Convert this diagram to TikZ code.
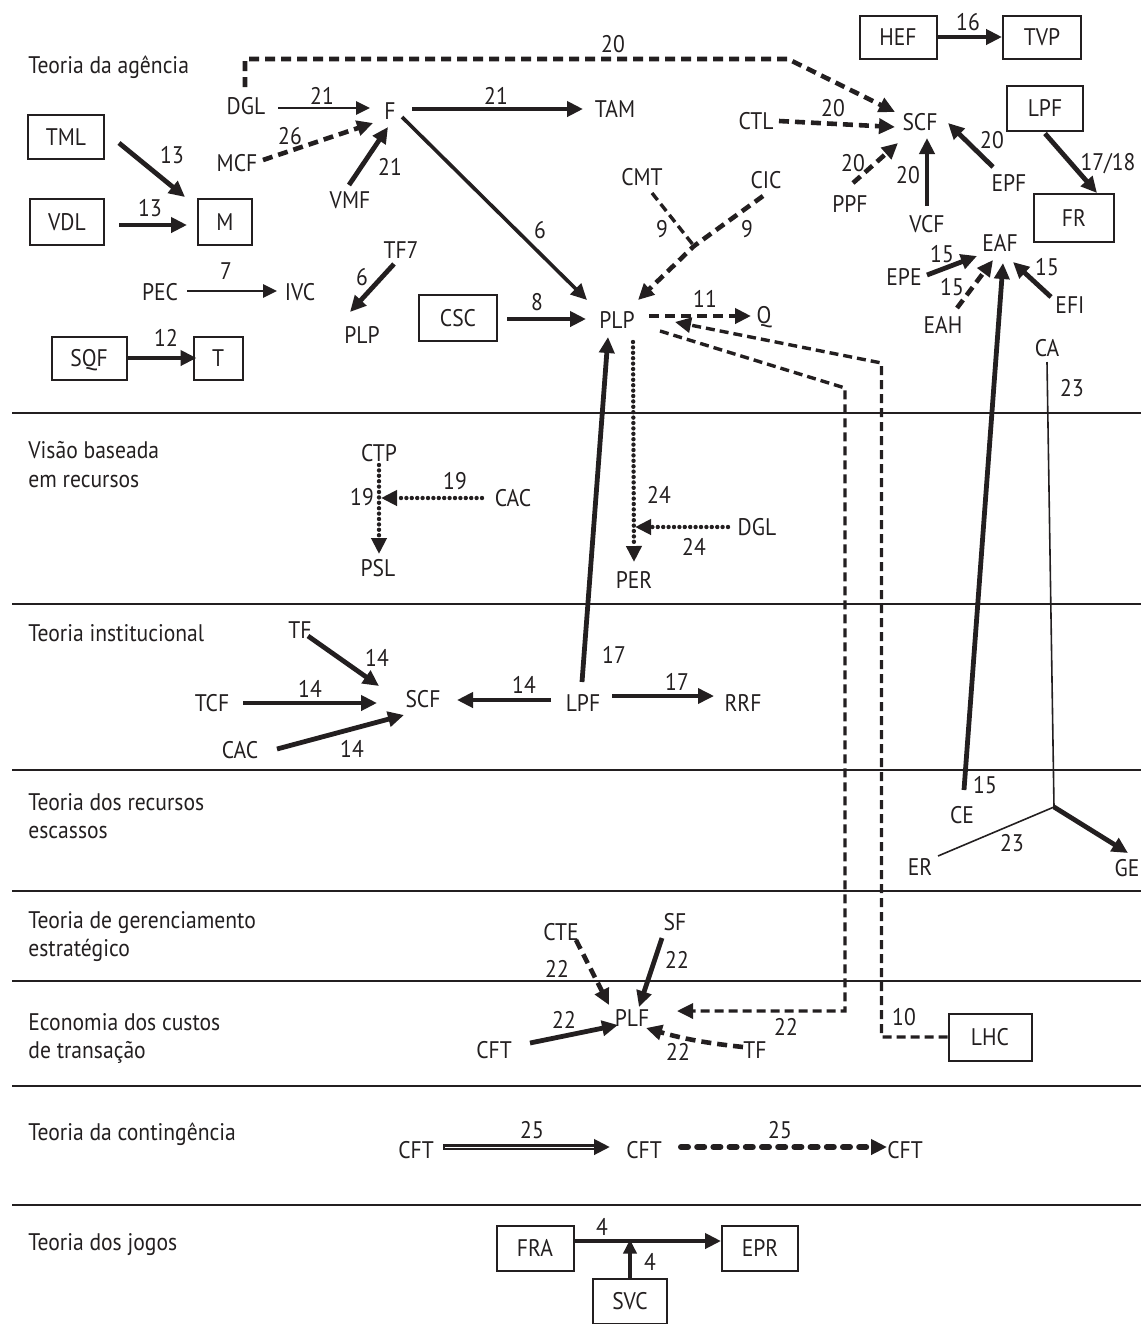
\documentclass[tikz,border=0pt]{standalone}
\usepackage{fontspec}
\setmainfont{PT Sans}[FakeStretch=0.9]
\usetikzlibrary{arrows.meta,calc}
\definecolor{ink}{RGB}{35,31,32}
\begin{document}
\begin{tikzpicture}[x=0.5pt,y=-0.5pt,color=ink,
  lbl/.style={font=\fontsize{12}{14}\selectfont,inner sep=0pt,text height=8.4pt,text depth=0pt},
  num/.style={lbl},
  sec/.style={font=\fontsize{12}{14}\selectfont,inner sep=0pt,anchor=base west},
  box/.style 2 args={lbl,draw,line width=1pt,minimum width=#1,minimum height=#2},
  ar/.style={-{Triangle[length=8pt,width=7.5pt]}},
  ars/.style={-{Triangle[length=7pt,width=6.5pt]}},
  thk/.style={line width=2.4pt},
  thn/.style={line width=1.3pt},
  med/.style={line width=1.8pt},
  hair/.style={line width=0.8pt},
  dsh/.style={line width=2.3pt,dash pattern=on 5pt off 3pt},
  dshl/.style={line width=1.7pt,dash pattern=on 4.5pt off 2.5pt},
  dotl/.style={line width=2.2pt,line cap=round,dash pattern=on 0pt off 2.7pt},
  sepline/.style={line width=1pt}
]
\useasboundingbox (0,0) rectangle (1141,1324);

% separator lines
\foreach \yy in {413,604,770,891,981,1086,1205} {\draw[sepline] (12,\yy) -- (1141,\yy);}

% section labels
\node[sec] (s1) at (28,73) {Teoria da agência};
\node[sec] (s2a) at (28,458) {Visão baseada};
\node[sec] (s2b) at (28,487) {em recursos};
\node[sec] (s3) at (28,641) {Teoria institucional};
\node[sec] (s4a) at (28,810) {Teoria dos recursos};
\node[sec] (s4b) at (28,838) {escassos};
\node[sec] (s5a) at (28,928) {Teoria de gerenciamento};
\node[sec] (s5b) at (28,956) {estratégico};
\node[sec] (s6a) at (28,1030) {Economia dos custos};
\node[sec] (s6b) at (28,1058) {de transação};
\node[sec] (s7) at (28,1140) {Teoria da contingência};
\node[sec] (s8) at (28,1250) {Teoria dos jogos};

% ---------- Teoria da agencia ----------
\node[lbl] (DGL1) at (246,106) {DGL};
\node[lbl] (F) at (390,111) {F};
\node[lbl] (MCF) at (237,163) {MCF};
\node[lbl] (VMF) at (350,200) {VMF};
\node[lbl] (TAM) at (615,109) {TAM};
\node[box={38pt}{22pt}] (TML) at (66,137) {TML};
\node[box={37pt}{23pt}] (VDL) at (67,222) {VDL};
\node[box={27pt}{23pt}] (M) at (225,222) {M};
\node[lbl] (PEC) at (160,292) {PEC};
\node[lbl] (IVC) at (300,292) {IVC};
\node[lbl] (TF7) at (401,250) {TF7};
\node[lbl] (PLPs) at (362,335) {PLP};
\node[box={37.5pt}{21.5pt}] (SQF) at (89,358) {SQF};
\node[box={24.5pt}{21.5pt}] (T) at (218,358) {T};
\node[box={39pt}{23pt}] (CSC) at (458,318) {CSC};
\node[lbl] (PLP) at (617,320) {PLP};
\node[lbl] (Q) at (764,315) {Q};
\node[lbl] (CMT) at (642,177) {CMT};
\node[lbl] (CIC) at (766,180) {CIC};
\node[lbl] (CTL) at (756,121) {CTL};
\node[lbl] (SCF1) at (920,122) {SCF};
\node[lbl] (PPF) at (850,204) {PPF};
\node[lbl] (VCF) at (927,224) {VCF};
\node[lbl] (EPF) at (1009,183) {EPF};
\node[box={38.5pt}{21.5pt}] (HEF) at (898,37) {HEF};
\node[box={39pt}{21.5pt}] (TVP) at (1042,37) {TVP};
\node[box={38pt}{22.5pt}] (LPF1) at (1045,108) {LPF};
\node[box={40pt}{24pt}] (FR) at (1074,218) {FR};
\node[lbl] (EAF) at (1000,243) {EAF};
\node[lbl] (EPE) at (904,277) {EPE};
\node[lbl] (EAH) at (943,325) {EAH};
\node[lbl] (EFI) at (1070,305) {EFI};
\node[lbl] (CA) at (1047,348) {CA};

% top dashed 20
\draw[dsh,ar] ($(DGL1)+(-1,-19)$) -- ++(0,-28) -- ($(SCF1)+(-132,-63)$) -- ($(SCF1)+(-25,-10)$);
\node[num] (n20a) at (613,44) {20};
\draw[thn,ars] ($(DGL1)+(32,2)$) -- ($(F)+(-20,-3)$);
\node[num] (n21a) at (322,96) {21};
\draw[dsh,ar] ($(MCF)+(26,-3)$) -- ($(F)+(-17,12)$);
\node[num] (n26) at (290,136) {26};
\draw[thk,ar] ($(VMF)+(-1,-15)$) -- ($(F)+(-2,16)$);
\node[num] (n21b) at (390,167) {21};
\draw[thk,ar] ($(F)+(22,-2)$) -- ($(TAM)+(-32,0)$);
\node[num] (n21c) at (496,96) {21};
\draw[med,ar] ($(F)+(12,6)$) -- ($(PLP)+(-30,-20)$);
\node[num] (n6a) at (540,230) {6};
\draw[thk,ar] ($(TML)+(53,6)$) -- ($(M)+(-40,-25)$);
\node[num] (n13a) at (172,155) {13};
\draw[thk,ar] ($(VDL)+(52,3)$) -- ($(M)+(-38,3)$);
\node[num] (n13b) at (150,208) {13};
\draw[thn,ars] ($(PEC)+(27,-1)$) -- ($(IVC)+(-23,-1)$);
\node[num] (n7) at (226,271) {7};
\draw[thk,ar] ($(TF7)+(-7,14)$) -- ($(PLPs)+(-12,-23)$);
\node[num] (n6b) at (362,277) {6};
\draw[thk,ar] (SQF.east) -- ($(T.west)+(4,0)$);
\node[num] (n12) at (166,338) {12};
\draw[thk,ar] ($(CSC)+(49,1)$) -- ($(PLP)+(-31,-1)$);
\node[num] (n8) at (537,302) {8};
\draw[dsh,ar] ($(PLP)+(32,-4)$) -- ($(Q)+(-13,1)$);
\node[num] (n11) at (705,299) {11};
\coordinate (J9) at (694,246);
\draw[dshl] ($(CMT)+(10,16)$) -- (J9);
\draw[dsh,ar] ($(CIC)+(-3,16)$) -- (J9) -- ($(PLP)+(21,-20)$);
\node[num] (n9a) at (662,229) {9};
\node[num] (n9b) at (747,229) {9};
\draw[dsh,ar] ($(CTL)+(23,0)$) -- ($(SCF1)+(-25,5)$);
\node[num] (n20b) at (833,108) {20};
\draw[dsh,ar] ($(PPF)+(3,-21)$) -- ($(SCF1)+(-22,21)$);
\node[num] (n20c) at (853,163) {20};
\draw[thk,ar] ($(VCF)+(0,-18)$) -- ($(SCF1)+(7,16)$);
\node[num] (n20d) at (908,175) {20};
\draw[thk,ar] ($(EPF)+(-16,-16)$) -- ($(SCF1)+(28,1)$);
\node[num] (n20e) at (992,140) {20};
\draw[thk,ar] (HEF.east) -- (TVP.west);
\node[num] (n16) at (968,22) {16};
\draw[thk,ar] ($(LPF1.south)+(0,2)$) -- ($(FR.north)+(23,0)$);
\node[num] (n1718) at (1108,162) {17/18};
\draw[thk,ar] ($(EPE)+(23,-2)$) -- ($(EAF)+(-23,13)$);
\node[num] (n15a) at (942,254) {15};
\draw[dsh,ar] ($(EAH)+(14,-17)$) -- ($(EAF)+(-7,17)$);
\node[num] (n15b) at (952,287) {15};
\draw[thk,ar] ($(EFI)+(-19,-8)$) -- ($(EAF)+(13,19)$);
\node[num] (n15c) at (1047,267) {15};

% ---------- Visao baseada ----------
\node[lbl] (CTP) at (379,453) {CTP};
\node[lbl] (PSL) at (378,568) {PSL};
\node[lbl] (CAC1) at (513,498) {CAC};
\node[lbl] (PER) at (634,580) {PER};
\node[lbl] (DGL2) at (757,527) {DGL};
\draw[dotl,ar] ($(CTP)+(0,12)$) -- ($(PSL)+(1,-14)$);
\draw[dotl,ar] ($(CAC1)+(-31,0)$) -- ($(CTP)+(2,45)$);
\node[num] (n19a) at (455,481) {19};
\node[num] (n19b) at (362,497) {19};
\draw[dotl,ar] ($(PLP)+(16,22)$) -- ($(PER)+(0,-18)$);
\draw[dotl,ar] ($(DGL2)+(-29,0)$) -- ($(PER)+(1,-53)$);
\node[num] (n24a) at (659,495) {24};
\node[num] (n24b) at (694,547) {24};

% ---------- Teoria institucional ----------
\node[lbl] (TF2) at (300,630) {TF};
\node[lbl] (TCF) at (212,703) {TCF};
\node[lbl] (SCF2) at (423,699) {SCF};
\node[lbl] (CAC2) at (240,750) {CAC};
\node[lbl] (LPF2) at (583,703) {LPF};
\node[lbl] (RRF) at (743,703) {RRF};
\draw[thk,ar] ($(LPF2)+(-1,-21)$) -- ($(PLP)+(-9,17)$);
\node[num] (n17a) at (614,655) {17};
\draw[med,ar] ($(LPF2)+(29,-7)$) -- ($(RRF)+(-29,-7)$);
\node[num] (n17b) at (677,682) {17};
\draw[thk,ar] ($(TF2)+(8,6)$) -- ($(SCF2)+(-44,-13)$);
\node[num] (n14a) at (377,658) {14};
\draw[thk,ar] ($(TCF)+(31,0)$) -- ($(SCF2)+(-46,4)$);
\node[num] (n14b) at (310,689) {14};
\draw[thk,ar] ($(CAC2)+(37,-1)$) -- ($(SCF2)+(-19,16)$);
\node[num] (n14c) at (352,749) {14};
\draw[thk,ar] ($(LPF2)+(-32,-3)$) -- ($(SCF2)+(34,1)$);
\node[num] (n14d) at (524,685) {14};

% ---------- Recursos escassos ----------
\node[lbl] (CE) at (962,815) {CE};
\node[lbl] (ER) at (920,867) {ER};
\node[lbl] (GE) at (1127,868) {GE};
\coordinate (J23) at (1054,807);
\draw[thk,ar] ($(CE)+(2,-25)$) -- ($(EAF)+(3,20)$);
\node[num] (n15d) at (985,785) {15};
\draw[hair] ($(CA)+(0,14)$) -- (J23);
\node[num] (n23a) at (1072,388) {23};
\draw[hair] ($(ER)+(18,-11)$) -- (J23);
\node[num] (n23b) at (1012,843) {23};
\draw[thk,ar] (J23) -- ($(GE)+(1,-15)$);

% ---------- Gerenciamento / custos de transacao ----------
\node[lbl] (CTE) at (561,932) {CTE};
\node[lbl] (SF) at (675,922) {SF};
\node[lbl] (PLF) at (632,1018) {PLF};
\node[lbl] (CFT0) at (494,1050) {CFT};
\node[lbl] (TF3) at (755,1050) {TF};
\node[box={41.5pt}{23.5pt}] (LHC) at (990,1037) {LHC};
\draw[dsh,ar] ($(CTE)+(15,8)$) -- ($(PLF)+(-23,-13)$);
\node[num] (n22a) at (557,969) {22};
\draw[thk,ar] ($(SF)+(-13,16)$) -- ($(PLF)+(7,-11)$);
\node[num] (n22b) at (677,960) {22};
\draw[thk,ar] ($(CFT0)+(36,-7)$) -- ($(PLF)+(-14,7)$);
\node[num] (n22c) at (564,1020) {22};
\draw[dsh,ar] ($(TF3)+(-12,-3)$) to[bend left=5] ($(PLF)+(14,10)$);
\node[num] (n22d) at (678,1052) {22};
\draw[dshl,ar] ($(PLP)+(43,11)$) -- (845,388) -- (845,1011) -- ($(PLF)+(45,-7)$);
\node[num] (n22e) at (786,1027) {22};
\draw[dshl,ar] (LHC.west) -- ++(-66,0) -- ++(0,-674) -- ($(PLP)+(58,2)$);
\node[num] (n10) at (904,1017) {10};

% ---------- Contingencia ----------
\node[lbl] (CFT1) at (416,1150) {CFT};
\node[lbl] (CFT2) at (644,1150) {CFT};
\node[lbl] (CFT3) at (905,1150) {CFT};
\draw[line width=3pt,ar] ($(CFT1)+(27,-3)$) -- ($(CFT2)+(-34,-3)$);
\draw[white,line width=0.5pt,shorten >=8pt] ($(CFT1)+(29,-3)$) -- ($(CFT2)+(-34,-3)$);
\node[num] (n25a) at (532,1130) {25};
\draw[line width=3pt,line cap=round,dash pattern=on 3.5pt off 4.6pt,ar] ($(CFT2)+(37,-3)$) -- ($(CFT3)+(-18,-3)$);
\node[num] (n25b) at (780,1130) {25};

% ---------- Jogos ----------
\node[box={38.5pt}{22.5pt}] (FRA) at (535,1248) {FRA};
\node[box={38pt}{22.5pt}] (EPR) at (760,1248) {EPR};
\node[box={37pt}{22.5pt}] (SVC) at (630,1301) {SVC};
\draw[thk,ar] ($(FRA.east)+(0,-7)$) -- ($(EPR.west)+(0,-7)$);
\node[num] (n4a) at (602,1227) {4};
\draw[med,ars] (SVC.north) -- ++(0,-38);
\node[num] (n4b) at (650,1262) {4};
\end{tikzpicture}
\end{document}
